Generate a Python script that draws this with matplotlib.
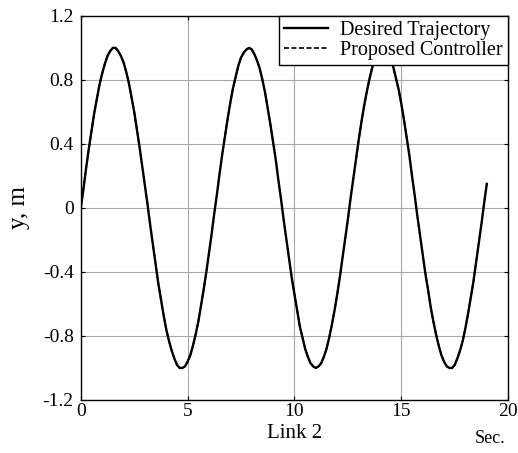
import matplotlib.pyplot as plt
import numpy as np

plt.rcParams['font.family'] = ['Liberation Serif', 'DejaVu Serif']

t = np.linspace(0, 19, 153)
y_desired = [0.00, 0.12, 0.25, 0.37, 0.48, 0.59, 0.68, 0.77,
             0.84, 0.90, 0.95, 0.98, 1.00, 1.00, 0.98, 0.95,
             0.91, 0.85, 0.78, 0.69, 0.60, 0.49, 0.38, 0.26,
             0.14, 0.02, -0.11, -0.23, -0.35, -0.47, -0.57, -0.67,
             -0.76, -0.83, -0.89, -0.94, -0.98, -1.00, -1.00, -0.99,
             -0.96, -0.92, -0.86, -0.79, -0.71, -0.61, -0.51, -0.40,
             -0.28, -0.16, -0.03, 0.09, 0.22, 0.34, 0.45, 0.56,
             0.66, 0.75, 0.82, 0.89, 0.94, 0.97, 0.99, 1.00,
             0.99, 0.96, 0.92, 0.87, 0.80, 0.72, 0.62, 0.52,
             0.41, 0.30, 0.17, 0.05, -0.08, -0.20, -0.32, -0.44,
             -0.54, -0.64, -0.74, -0.81, -0.88, -0.93, -0.97, -0.99,
             -1.00, -0.99, -0.97, -0.93, -0.88, -0.81, -0.73, -0.64,
             -0.54, -0.43, -0.31, -0.19, -0.07, 0.06, 0.18, 0.30,
             0.42, 0.53, 0.63, 0.72, 0.80, 0.87, 0.93, 0.97,
             0.99, 1.00, 0.99, 0.97, 0.93, 0.88, 0.81, 0.74,
             0.65, 0.55, 0.44, 0.33, 0.20, 0.08, -0.05, -0.17,
             -0.29, -0.41, -0.51, -0.62, -0.71, -0.79, -0.86, -0.92,
             -0.96, -0.99, -1.00, -1.00, -0.98, -0.94, -0.89, -0.83,
             -0.75, -0.66, -0.56, -0.46, -0.34, -0.22, -0.10, 0.03,
             0.15]
# controller output sits on top of the desired trajectory
y_controller = list(y_desired)

xticks = [0, 5, 10, 15, 20]
yticks = [-1.2, -0.8, -0.4, 0, 0.4, 0.8, 1.2]
ytick_labels = ['-1.2', '-0.8', '-0.4', '0', '0.4', '0.8', '1.2']

fig = plt.figure(figsize=(5.18, 4.53), dpi=100)
ax = fig.add_axes([0.156, 0.117, 0.825, 0.848])

ax.plot(t, y_desired, color='black', lw=1.7, ls='-', label='Desired Trajectory')
ax.plot(t, y_controller, color='black', lw=1.2, ls=(0, (3, 1.5)), label='Proposed Controller')

ax.set_xlim(0, 20)
ax.set_ylim(-1.2, 1.2)
ax.set_xticks(xticks)
ax.set_yticks(yticks)
ax.set_yticklabels(ytick_labels)
ax.grid(True, color='#a8a8a8', lw=0.8)
ax.tick_params(direction='in', length=3, top=True, right=True, labelsize=14)
ax.tick_params(axis='y', pad=5)
ax.tick_params(axis='x', pad=2)
for s in ax.spines.values():
    s.set_linewidth(1.0)

ax.set_ylabel('y, m', fontsize=18, labelpad=9)
ax.set_xlabel('Link 2', fontsize=15, labelpad=3)
fig.text(0.946, 0.032, 'Sec.', fontsize=13, ha='center', va='center')

leg = ax.legend(loc='upper right', borderaxespad=0, fancybox=False, framealpha=1,
                edgecolor='black', fontsize=14.5, handlelength=2.2, borderpad=0.25,
                labelspacing=0.05, handletextpad=0.6)
leg.get_frame().set_linewidth(1.0)

plt.savefig('out.png', dpi=100)
